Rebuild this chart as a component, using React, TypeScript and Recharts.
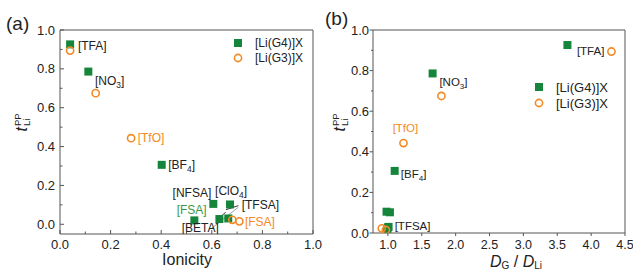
import React from "react";
import { ScatterChart, Scatter, XAxis, YAxis, ReferenceArea, ReferenceLine } from "recharts";

// anions measured in [Li(G4)]X and [Li(G3)]X
const anionsG4 = ["TFA", "NO3", "BF4", "NFSA", "ClO4", "FSA", "BETA", "TFSA"];
const ionicityG4 = [0.04, 0.112, 0.402, 0.606, 0.672, 0.531, 0.63, 0.665];
const diffRatioG4 = [3.65, 1.66, 1.1, 0.98, 1.03, 0.99, 1.0, 1.01];
const tLiG4 = [0.926, 0.786, 0.306, 0.105, 0.102, 0.02, 0.027, 0.03];

const anionsG3 = ["TFA", "NO3", "TfO", "TFSA", "FSA"];
const ionicityG3 = [0.04, 0.141, 0.281, 0.681, 0.709];
const diffRatioG3 = [4.3, 1.79, 1.23, 0.91, 0.97];
const tLiG3 = [0.894, 0.675, 0.443, 0.023, 0.015];

const ticksA_x = [0, 0.1, 0.2, 0.3, 0.4, 0.5, 0.6, 0.7, 0.8, 0.9, 1.0];
const ticksY = [0, 0.1, 0.2, 0.3, 0.4, 0.5, 0.6, 0.7, 0.8, 0.9, 1.0];
const ticksB_x = [1.0, 1.5, 2.0, 2.5, 3.0, 3.5, 4.0, 4.5];

const GREEN = "#16853c";
const ORANGE = "#f28a26";
const TEXT = "#222";
const FRAME = "#555";
const FONT = "Arial, 'Liberation Sans', sans-serif";

// annotation labels (anchored in data units)
const labelsA = [
  { x: 0.071, y: 0.918, text: "[TFA", color: TEXT },
  { x: 0.138, y: 0.738, text: "[NO", sub: "3", color: TEXT },
  { x: 0.307, y: 0.443, text: "[TfO", color: ORANGE },
  { x: 0.428, y: 0.306, text: "[BF", sub: "4", color: TEXT },
  { x: 0.445, y: 0.163, text: "[NFSA", color: TEXT },
  { x: 0.613, y: 0.174, text: "[ClO", sub: "4", color: TEXT },
  { x: 0.718, y: 0.1, text: "[TFSA", color: TEXT },
  { x: 0.461, y: 0.075, text: "[FSA", color: "#3a9a44" },
  { x: 0.481, y: -0.02, text: "[BETA", color: TEXT },
  { x: 0.731, y: 0.013, text: "[FSA", color: ORANGE },
];

const labelsB = [
  { x: 3.79, y: 0.897, text: "[TFA", color: TEXT },
  { x: 1.76, y: 0.744, text: "[NO", sub: "3", color: TEXT },
  { x: 1.07, y: 0.517, text: "[TfO", color: ORANGE },
  { x: 1.19, y: 0.29, text: "[BF", sub: "4", color: TEXT },
  { x: 1.1, y: 0.036, text: "[TFSA", color: TEXT },
];

const g4a = anionsG4.map((name, i) => ({ name, x: ionicityG4[i], y: tLiG4[i] }));
const g3a = anionsG3.map((name, i) => ({ name, x: ionicityG3[i], y: tLiG3[i] }));
const g4b = anionsG4.map((name, i) => ({ name, x: diffRatioG4[i], y: tLiG4[i] }));
const g3b = anionsG3.map((name, i) => ({ name, x: diffRatioG3[i], y: tLiG3[i] }));

const Square = (props: any) => (
  <rect x={props.cx - 4} y={props.cy - 4} width={8} height={8} fill={GREEN} />
);
const Ring = (props: any) => (
  <circle cx={props.cx} cy={props.cy} r={3.6} fill="none" stroke={ORANGE} strokeWidth={1.6} />
);

const makeLabelShape = (fontSize: number) => (props: any) => {
  const p = props.payload;
  return (
    <text x={props.cx} y={props.cy} dy="0.35em" fontSize={fontSize} fill={p.color} fontFamily={FONT}>
      {p.text}
      {p.sub ? (
        <>
          <tspan dy={3} fontSize={fontSize * 0.7}>{p.sub}</tspan>
          <tspan dy={-3}>]</tspan>
        </>
      ) : (
        "]"
      )}
    </text>
  );
};

const isMajor = (v: number) => Math.round(v * 10) % 2 === 0;

const BottomTickA = (props: any) => {
  const { x, y, payload } = props;
  const major = isMajor(payload.value);
  return (
    <g>
      <line x1={x} x2={x} y1={y} y2={y - (major ? 4 : 2.5)} stroke={FRAME} />
      {major && (
        <text x={x} y={y + 15} textAnchor="middle" fontSize={13} fill={TEXT} fontFamily={FONT}>
          {payload.value.toFixed(1)}
        </text>
      )}
    </g>
  );
};

const LeftTickA = (props: any) => {
  const { x, y, payload } = props;
  const major = isMajor(payload.value);
  return (
    <g>
      <line x1={x} x2={x + (major ? 4 : 2.5)} y1={y} y2={y} stroke={FRAME} />
      {major && (
        <text x={x - 5} y={y} dy="0.35em" textAnchor="end" fontSize={13} fill={TEXT} fontFamily={FONT}>
          {payload.value.toFixed(1)}
        </text>
      )}
    </g>
  );
};

const BottomTickB = (props: any) => {
  const { x, y, payload } = props;
  return (
    <g>
      <line x1={x} x2={x} y1={y} y2={y + 3} stroke={FRAME} />
      <text x={x} y={y + 16} textAnchor="middle" fontSize={12.5} fill={TEXT} fontFamily={FONT}>
        {payload.value.toFixed(1)}
      </text>
    </g>
  );
};

const LeftTickB = (props: any) => {
  const { x, y, payload } = props;
  const major = isMajor(payload.value);
  return (
    <g>
      <line x1={x} x2={x - (major ? 3.5 : 2)} y1={y} y2={y} stroke={FRAME} />
      {major && (
        <text x={x - 4} y={y} dy="0.35em" textAnchor="end" fontSize={13} fill={TEXT} fontFamily={FONT}>
          {payload.value.toFixed(1)}
        </text>
      )}
    </g>
  );
};

// y title t_Li^PP plus panel letter and legend
const SideDecor = ({ cx, cy, letter, lx, ly, legX, legY, legGap, legFont }: any) => (
  <g fontFamily={FONT}>
    <text x={lx} y={ly} fontSize={19} fill={TEXT}>{letter}</text>
    <g transform={`translate(${cx},${cy}) rotate(-90)`}>
      <text x={-1} y={5} textAnchor="end" fontSize={16} fontStyle="italic" fill={TEXT}>t</text>
      <text x={0} y={-1} fontSize={9.5} fill={TEXT}>PP</text>
      <text x={0} y={8} fontSize={9.5} fill={TEXT}>Li</text>
    </g>
    <rect x={legX - 4} y={legY - 4} width={8} height={8} fill={GREEN} />
    <text x={legX + 17} y={legY} dy="0.35em" fontSize={legFont} fill={TEXT}>[Li(G4)]X</text>
    <circle cx={legX} cy={legY + legGap} r={3.6} fill="none" stroke={ORANGE} strokeWidth={1.6} />
    <text x={legX + 17} y={legY + legGap} dy="0.35em" fontSize={legFont} fill={TEXT}>[Li(G3)]X</text>
  </g>
);

const XTitleA = () => (
  <text x={187} y={265} textAnchor="middle" fontSize={16} fill={TEXT} fontFamily={FONT}>Ionicity</text>
);

const XTitleB = () => (
  <text x={196} y={267} textAnchor="middle" fontSize={16} fill={TEXT} fontFamily={FONT}>
    <tspan fontStyle="italic">D</tspan>
    <tspan dy={1.5} fontSize={10}>G</tspan>
    <tspan dy={-1.5}> / </tspan>
    <tspan fontStyle="italic">D</tspan>
    <tspan dy={1.5} fontSize={10}>Li</tspan>
  </text>
);

export default function App() {
  return (
    <div style={{ position: "absolute", left: 0, top: 0, width: 633, height: 269, background: "#fff", overflow: "hidden" }}>
      <div style={{ position: "absolute", left: 0, top: 0 }}>
        <ScatterChart width={332} height={269} margin={{ top: 30, right: 19, bottom: 0, left: 0 }}>
          <XAxis
            type="number"
            dataKey="x"
            domain={[0, 1]}
            ticks={ticksA_x}
            interval={0}
            allowDataOverflow
            height={35}
            tickSize={0}
            tickMargin={0}
            tickLine={false}
            axisLine={false}
            tick={<BottomTickA />}
            label={<XTitleA />}
          />
          <YAxis
            type="number"
            dataKey="y"
            domain={[-0.05, 1]}
            ticks={ticksY}
            interval={0}
            allowDataOverflow
            width={60}
            tickSize={0}
            tickMargin={0}
            tickLine={false}
            axisLine={false}
            tick={<LeftTickA />}
            label={
              <SideDecor cx={22} cy={126} letter="(a)" lx={6} ly={30} legX={238} legY={43} legGap={15} legFont={12} />
            }
          />
          <ReferenceArea x1={0} x2={1} y1={-0.05} y2={1} fill="none" fillOpacity={0} stroke={FRAME} strokeWidth={1} />
          <ReferenceLine segment={[{ x: 0.6, y: -0.02 }, { x: 0.705, y: 0.088 }]} stroke="#888" strokeWidth={0.8} />
          <ReferenceLine segment={[{ x: 0.705, y: 0.096 }, { x: 0.656, y: 0.075 }]} stroke="#222" strokeWidth={0.9} />
          <ReferenceLine segment={[{ x: 0.655, y: 0.062 }, { x: 0.64, y: 0.045 }]} stroke="#222" strokeWidth={0.9} />
          <Scatter data={g4a} shape={<Square />} isAnimationActive={false} />
          <Scatter data={g3a} shape={<Ring />} isAnimationActive={false} />
          <Scatter data={labelsA} shape={makeLabelShape(12)} isAnimationActive={false} />
        </ScatterChart>
      </div>
      <div style={{ position: "absolute", left: 320, top: 0 }}>
        <ScatterChart width={313} height={269} margin={{ top: 30, right: 8, bottom: 0, left: 0 }}>
          <XAxis
            type="number"
            dataKey="x"
            domain={[0.78, 4.5]}
            ticks={ticksB_x}
            interval={0}
            allowDataOverflow
            height={36}
            tickSize={0}
            tickMargin={0}
            tickLine={false}
            axisLine={false}
            tick={<BottomTickB />}
            label={<XTitleB />}
          />
          <YAxis
            type="number"
            dataKey="y"
            domain={[0, 1]}
            ticks={ticksY}
            interval={0}
            allowDataOverflow
            width={53}
            tickSize={0}
            tickMargin={0}
            tickLine={false}
            axisLine={false}
            tick={<LeftTickB />}
            label={
              <SideDecor cx={20} cy={126} letter="(b)" lx={5} ly={25} legX={219} legY={87} legGap={16} legFont={13} />
            }
          />
          <ReferenceArea x1={0.78} x2={4.5} y1={0} y2={1} fill="none" fillOpacity={0} stroke={FRAME} strokeWidth={1} />
          <Scatter data={g4b} shape={<Square />} isAnimationActive={false} />
          <Scatter data={g3b} shape={<Ring />} isAnimationActive={false} />
          <Scatter data={labelsB} shape={makeLabelShape(11.5)} isAnimationActive={false} />
        </ScatterChart>
      </div>
    </div>
  );
}
